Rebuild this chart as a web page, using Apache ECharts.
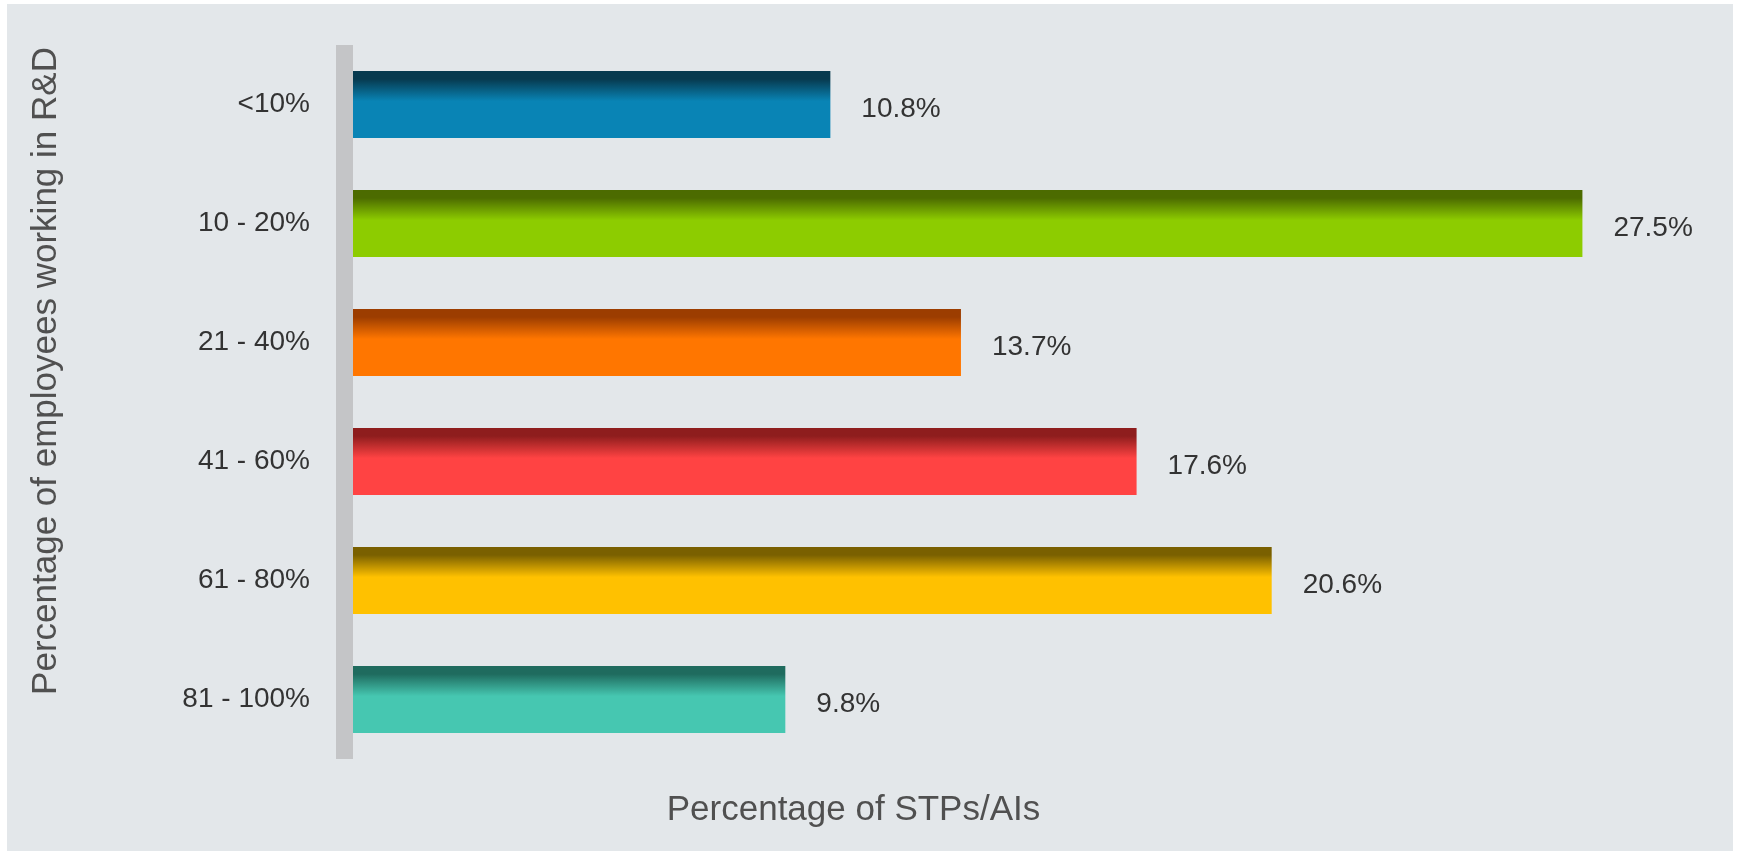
<!DOCTYPE html>
<html>
<head>
<meta charset="utf-8">
<title>R&amp;D staff share vs STPs/AIs</title>
<script src="https://cdn.jsdelivr.net/npm/echarts@6/dist/echarts.min.js"></script>
<style>
  html, body { margin: 0; padding: 0; background: #ffffff; }
  #chart { position: absolute; left: 7px; top: 4px; width: 1726px; height: 847px; }
</style>
</head>
<body>
<div id="chart"></div>
<script>
// data
const categories = ['<10%', '10 - 20%', '21 - 40%', '41 - 60%', '61 - 80%', '81 - 100%']
const shares = [10.8, 27.5, 13.7, 17.6, 20.6, 9.8]
const shareLabels = ['10.8%', '27.5%', '13.7%', '17.6%', '20.6%', '9.8%']

// bar colours: dark top edge -> main colour
const darkTones = ['#073a4f', '#4c6b00', '#9c3d00', '#8e1d1d', '#7a6000', '#1f6b5e']
const mainTones = ['#0984b5', '#8dcc00', '#ff7600', '#ff4343', '#ffc100', '#46c7b1']

const fontFamily = '"Liberation Sans", Arial, sans-serif'

const barGradient = (i) => new echarts.graphic.LinearGradient(0, 0, 0, 1, [
  { offset: 0, color: darkTones[i] },
  { offset: 0.12, color: darkTones[i] },
  { offset: 0.45, color: mainTones[i] },
  { offset: 0.95, color: mainTones[i] },
  { offset: 1, color: mainTones[i] }
])

const chart = echarts.init(document.getElementById('chart'))

chart.setOption({
  backgroundColor: '#e3e7ea',
  animation: false,
  grid: {
    left: 337,
    top: 41,
    width: 1351,
    height: 714
  },
  xAxis: {
    type: 'value',
    min: 0,
    max: 30,
    axisLine: { show: false },
    axisTick: { show: false },
    axisLabel: { show: false },
    splitLine: { show: false },
    name: 'Percentage of STPs/AIs',
    nameLocation: 'middle',
    nameGap: 34,
    nameTextStyle: {
      fontFamily,
      fontSize: 35,
      color: '#505050',
      padding: [0, 332, 0, 0]
    }
  },
  yAxis: {
    type: 'category',
    inverse: true,
    data: categories,
    z: 5,
    axisLine: {
      show: true,
      lineStyle: { color: '#c4c5c7', width: 17, cap: 'butt' }
    },
    axisTick: { show: false },
    axisLabel: {
      margin: 34,
      fontFamily,
      fontSize: 28,
      color: '#333333'
    },
    name: 'Percentage of employees working in R&D',
    nameLocation: 'middle',
    nameRotate: 90,
    nameGap: 280,
    nameTextStyle: {
      fontFamily,
      fontSize: 35,
      color: '#505050',
      padding: [0, 0, 0, 62]
    }
  },
  series: [{
    type: 'bar',
    z: 1,
    barWidth: 67,
    data: shares.map((v, i) => ({
      value: v,
      itemStyle: { color: barGradient(i) }
    })),
    label: {
      show: true,
      position: 'right',
      distance: 31,
      offset: [0, 5],
      fontFamily,
      fontSize: 28,
      color: '#333333',
      formatter: (p) => shareLabels[p.dataIndex]
    }
  }]
})
</script>
</body>
</html>
